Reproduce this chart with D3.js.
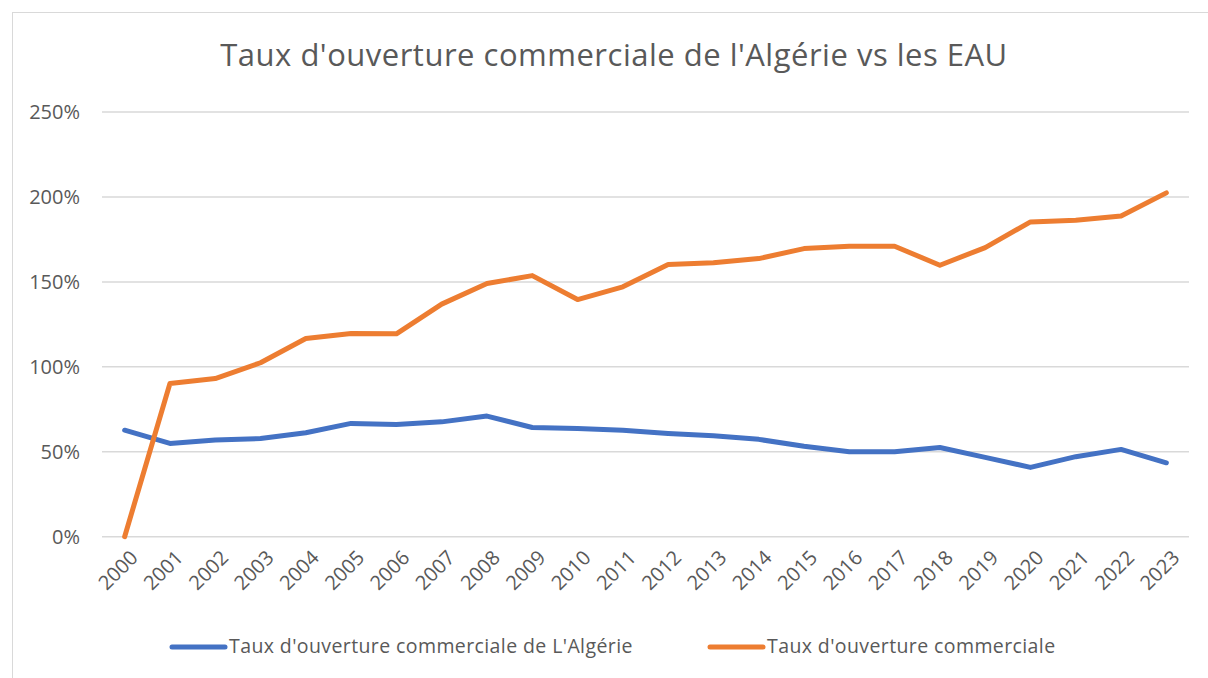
<!DOCTYPE html>
<html>
<head>
<meta charset="utf-8">
<script src="https://cdn.jsdelivr.net/npm/d3@7"></script>
<style>
  body { margin: 0; background: #fff; }
  svg { font-family: "Open Sans", "Liberation Sans", sans-serif; }
</style>
</head>
<body>
<div id="chart-container"></div>
<script>
const years = ["2000","2001","2002","2003","2004","2005","2006","2007","2008","2009","2010","2011",
               "2012","2013","2014","2015","2016","2017","2018","2019","2020","2021","2022","2023"];
const algerie = [62.7, 54.9, 56.9, 57.8, 61.2, 66.7, 66.1, 67.6, 71.0, 64.3, 63.7, 62.7,
                 60.8, 59.4, 57.3, 53.3, 50.0, 50.0, 52.5, 46.7, 40.8, 47.1, 51.4, 43.5];
const eau = [0, 90.2, 93.1, 102.4, 116.7, 119.6, 119.4, 136.9, 149.0, 153.7, 139.6, 147.1,
             160.2, 161.2, 163.7, 169.6, 171.0, 171.0, 159.8, 170.2, 185.3, 186.3, 188.8, 202.4];
const yTicks = [0, 50, 100, 150, 200, 250];
const seriesNames = ["Taux d'ouverture commerciale de L'Algérie", "Taux d'ouverture commerciale"];
const colors = ["#4472C4", "#ED7D31"];

const W = 1208, H = 678;
const margin = { top: 112, right: 19, bottom: 141, left: 102 };
const width = W - margin.left - margin.right;
const height = H - margin.top - margin.bottom;

const root = d3.select("#chart-container")
    .append("svg")
    .attr("width", W)
    .attr("height", H);

// chart frame
root.append("rect")
    .attr("x", 12.5).attr("y", 12.5)
    .attr("width", W).attr("height", H)
    .attr("fill", "none")
    .attr("stroke", "#D9D9D9")
    .attr("stroke-width", 1);

root.append("text")
    .attr("x", 614)
    .attr("y", 66)
    .attr("text-anchor", "middle")
    .attr("fill", "#595959")
    .style("font-size", "31px")
    .style("letter-spacing", "0.5px")
    .text("Taux d'ouverture commerciale de l'Algérie vs les EAU");

const svg = root.append("g")
    .attr("transform", `translate(${margin.left}, ${margin.top})`);

const x = d3.scalePoint()
    .domain(years)
    .range([0, width])
    .padding(0.5);

const y = d3.scaleLinear()
    .domain([0, 250])
    .range([height - 0.3, 0]);

// gridlines
svg.append("g")
    .selectAll("line")
    .data(yTicks)
    .enter().append("line")
    .attr("x1", 0).attr("x2", width)
    .attr("y1", d => y(d)).attr("y2", d => y(d))
    .attr("stroke", "#D9D9D9")
    .attr("stroke-width", 1.5);

const yAxis = svg.append("g")
    .call(d3.axisLeft(y).tickValues(yTicks).tickFormat(d => d + "%").tickSize(0).tickPadding(22));
yAxis.select(".domain").remove();
yAxis.selectAll("text")
    .attr("fill", "#595959")
    .style("font-size", "20px")
    .style("font-family", "Open Sans, sans-serif");

const xAxis = svg.append("g")
    .attr("transform", `translate(0, ${height})`)
    .call(d3.axisBottom(x).tickSize(0));
xAxis.select(".domain").remove();
xAxis.selectAll("text")
    .attr("fill", "#595959")
    .style("font-size", "20px")
    .style("font-family", "Open Sans, sans-serif")
    .style("text-anchor", "end")
    .attr("dy", "0.35em")
    .attr("transform", "translate(9, 17) rotate(-45)")
    .attr("x", 0).attr("y", 0);

const line = d3.line()
    .x((d, i) => x(years[i]))
    .y(d => y(d));

[algerie, eau].forEach((s, k) => {
    svg.append("path")
        .datum(s)
        .attr("fill", "none")
        .attr("stroke", colors[k])
        .attr("stroke-width", 5)
        .attr("stroke-linejoin", "round")
        .attr("stroke-linecap", "round")
        .attr("d", line);
});

// legend
const legendX = [172, 710];
const legend = root.append("g");
seriesNames.forEach((name, k) => {
    legend.append("line")
        .attr("x1", legendX[k]).attr("x2", legendX[k] + 53)
        .attr("y1", 647).attr("y2", 647)
        .attr("stroke", colors[k])
        .attr("stroke-width", 5)
        .attr("stroke-linecap", "round");
    legend.append("text")
        .attr("x", legendX[k] + 57)
        .attr("y", 653)
        .attr("fill", "#595959")
        .style("font-size", "19.5px")
        .style("letter-spacing", "0.4px")
        .text(name);
});
</script>
</body>
</html>
